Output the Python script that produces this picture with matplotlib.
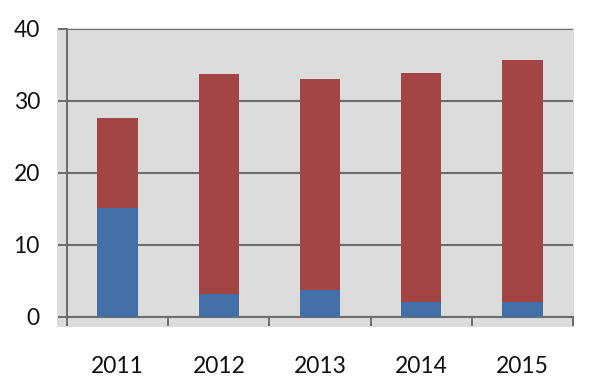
import numpy as np
import matplotlib
matplotlib.use('Agg')
import matplotlib.pyplot as plt
from matplotlib.patches import Rectangle

years = ['2011', '2012', '2013', '2014', '2015']
blue_vals = [15.1, 3.2, 3.75, 2.1, 2.1]
red_vals = [12.6, 30.5, 29.3, 31.8, 33.6]

plt.rcParams['font.family'] = ['Lato', 'DejaVu Sans']

fig = plt.figure(figsize=(6, 3.84), dpi=100)
# gray plot area, a bit bigger than the axes (ticks stick out into it)
fig.patches.append(Rectangle((0.095, 0.1484), 0.8617, 0.7786, transform=fig.transFigure,
                             facecolor='#dcdcdc', edgecolor='none', zorder=-1))
ax = fig.add_axes([0.1117, 0.1745, 0.8433, 0.75], zorder=2)
ax.set_facecolor('none')

x = np.arange(len(years))
ax.bar(x, blue_vals, width=0.4, color='#4470a8', zorder=3)
ax.bar(x, red_vals, width=0.4, bottom=blue_vals, color='#a44545', zorder=3)

ax.set_xlim(-0.5, 4.5)
ax.set_ylim(0, 40)
ax.set_yticks([0, 10, 20, 30, 40])
ax.yaxis.grid(True, color='#6e6e6e', linewidth=1.5, zorder=1)
ax.set_axisbelow(True)

ax.set_xticks(x)
ax.set_xticklabels(years)
ax.set_xticks(np.arange(-0.5, 5, 1), minor=True)
ax.tick_params(axis='x', which='major', length=0, pad=28, labelsize=16.5, colors='#111111')
ax.tick_params(axis='x', which='minor', length=6.5, width=1.5, color='#6e6e6e', direction='out')
ax.tick_params(axis='y', length=6.5, width=1.5, color='#6e6e6e', pad=13, labelsize=16.5,
               labelcolor='#111111')

for s in ['top', 'right']:
    ax.spines[s].set_visible(False)
for s in ['left', 'bottom']:
    ax.spines[s].set_color('#6e6e6e')
    ax.spines[s].set_linewidth(1.5)

fig.savefig('out.png', dpi=100)
